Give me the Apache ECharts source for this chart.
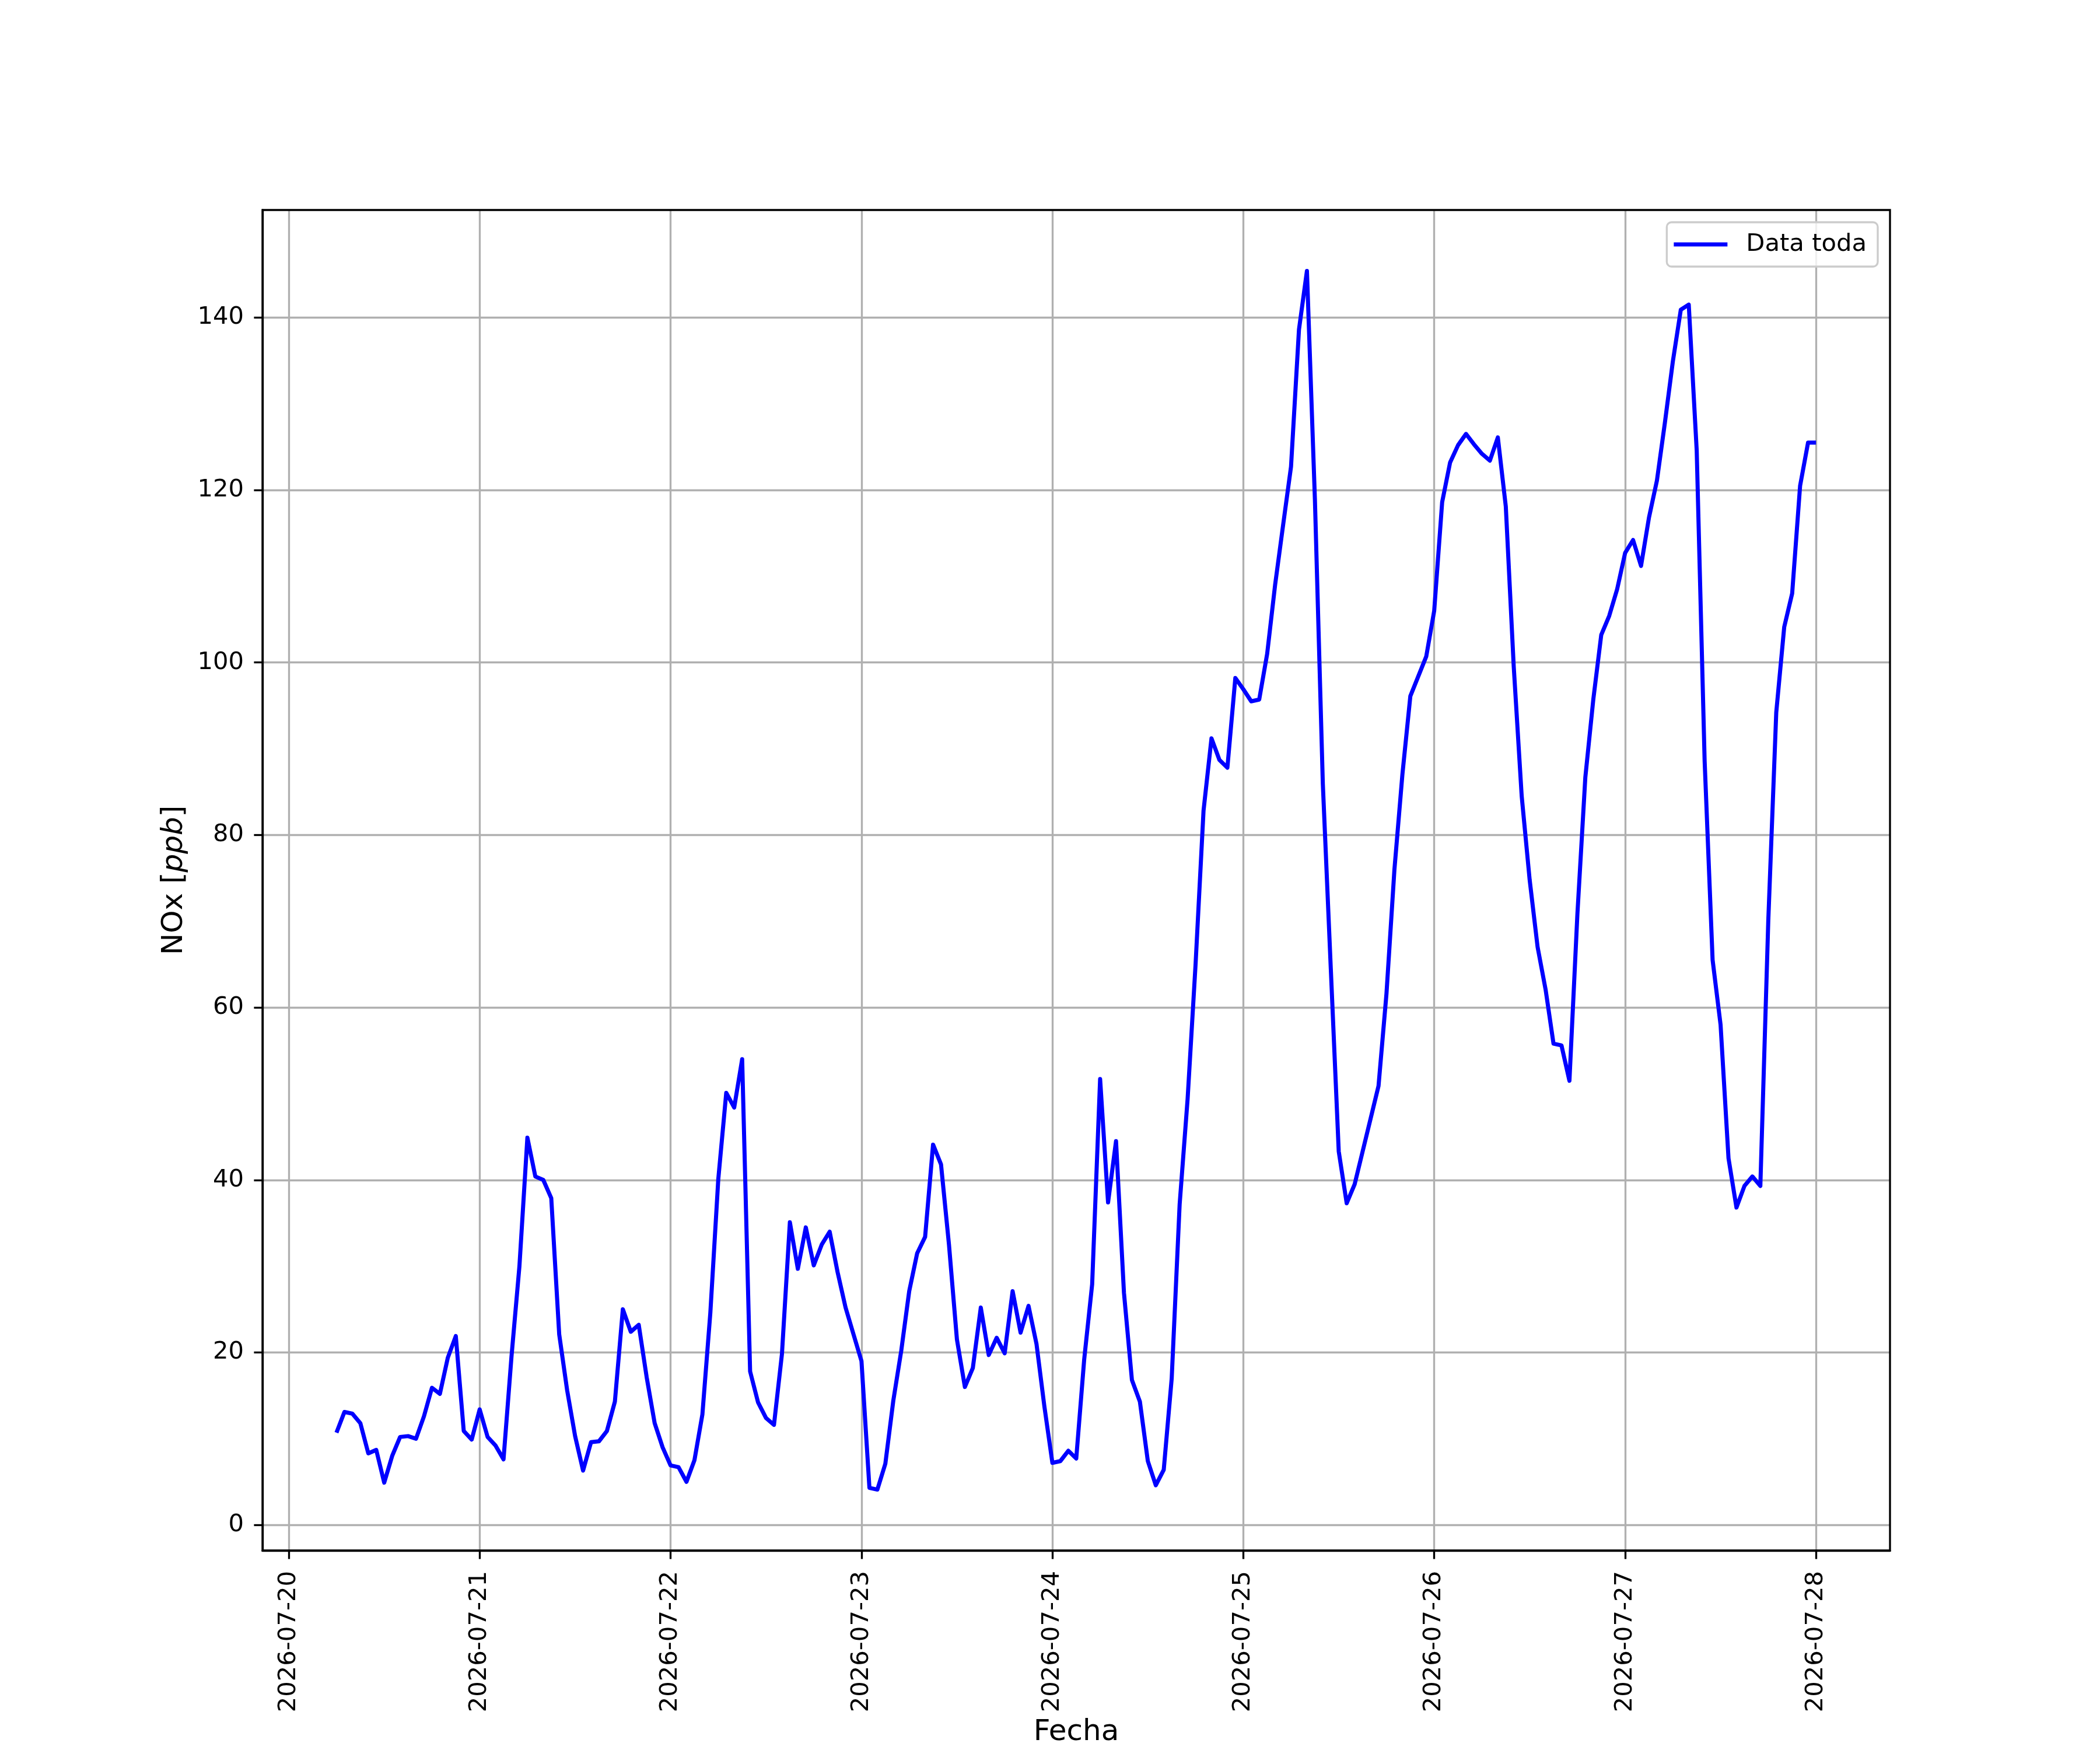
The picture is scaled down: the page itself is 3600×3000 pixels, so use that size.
<!DOCTYPE html>
<html>
<head>
<meta charset="utf-8">
<script src="https://cdn.jsdelivr.net/npm/echarts@6/dist/echarts.min.js"></script>
<style>
html,body{margin:0;padding:0;background:#ffffff;}
#c{width:3600px;height:3000px;}
</style>
</head>
<body>
<div id="c"></div>
<script>
// ---------- data ----------
const seriesName = 'Data toda';
const firstSample = [2026, 7, 20, 6]; // year, month, day, hour (UTC) of first hourly sample
// NOx [ppb], hourly, per day
const nox_0720 = [10.7, 13.1, 12.9, 11.8, 8.3, 8.7, 4.9, 8.0, 10.2, 10.3, 10.0, 12.6, 15.9, 15.2, 19.4, 21.9, 10.9, 9.9]; // 06..23
const nox_0721 = [13.4, 10.2, 9.2, 7.6, 19.5, 30.0, 44.9, 40.4, 40.0, 37.9, 22.1, 15.6, 10.3, 6.3, 9.6, 9.7, 10.9, 14.3, 25.0, 22.4, 23.2, 17.1, 11.8, 9.0];
const nox_0722 = [6.9, 6.7, 5.0, 7.5, 12.8, 24.6, 40.1, 50.1, 48.4, 54.0, 17.8, 14.2, 12.4, 11.6, 19.8, 35.1, 29.7, 34.5, 30.1, 32.5, 34.0, 29.3, 25.2, 22.1];
const nox_0723 = [19.0, 4.3, 4.1, 7.1, 14.4, 20.2, 27.1, 31.5, 33.4, 44.1, 41.8, 32.5, 21.5, 16.0, 18.2, 25.2, 19.7, 21.7, 19.9, 27.1, 22.3, 25.4, 21.0, 13.7];
const nox_0724 = [7.2, 7.4, 8.6, 7.7, 19.2, 27.9, 51.7, 37.4, 44.5, 26.9, 16.8, 14.3, 7.4, 4.6, 6.4, 17.0, 37.2, 49.4, 65.0, 82.8, 91.2, 88.7, 87.8, 98.2];
const nox_0725 = [96.9, 95.5, 95.7, 101.0, 109.0, 115.9, 122.7, 138.6, 145.4, 119.0, 85.9, 64.5, 43.3, 37.3, 39.5, 43.3, 47.1, 50.9, 61.6, 76.0, 87.0, 96.1, 98.4, 100.7];
const nox_0726 = [106.0, 118.6, 123.2, 125.2, 126.5, 125.3, 124.2, 123.4, 126.1, 118.1, 99.5, 84.5, 74.8, 67.0, 62.1, 55.8, 55.6, 51.5, 70.8, 86.7, 95.7, 103.2, 105.4, 108.5];
const nox_0727 = [112.7, 114.2, 111.2, 116.8, 121.1, 127.8, 134.9, 140.9, 141.5, 124.6, 88.5, 65.5, 58.0, 42.5, 36.8, 39.3, 40.4, 39.3, 70.1, 94.2, 104.1, 108.0, 120.5, 125.5];
const nox_0728 = [125.5]; // 00

const xTickLabels = ['2026-07-20','2026-07-21','2026-07-22','2026-07-23','2026-07-24','2026-07-25','2026-07-26','2026-07-27','2026-07-28'];
const yTickLabels = [0, 20, 40, 60, 80, 100, 120, 140];

// ---------- build ----------
const noxValues = [].concat(nox_0720, nox_0721, nox_0722, nox_0723, nox_0724, nox_0725, nox_0726, nox_0727, nox_0728);
const HOUR = 3600 * 1000;
const DAY = 24 * HOUR;
const t0 = Date.UTC(firstSample[0], firstSample[1] - 1, firstSample[2], firstSample[3]);
const seriesData = noxValues.map((v, i) => [t0 + i * HOUR, v]);

const tFirst = seriesData[0][0], tLast = seriesData[seriesData.length - 1][0];
const xPad = 0.05 * (tLast - tFirst);
const vMin = Math.min.apply(null, noxValues), vMax = Math.max.apply(null, noxValues);
const yPad = 0.05 * (vMax - vMin);

const xTickValues = xTickLabels.map(s => {
  const p = s.split('-').map(Number);
  return Date.UTC(p[0], p[1] - 1, p[2]);
});

const FONT = 'DejaVu Sans';
const TICK_FS = 41.7;
const LABEL_FS = 50;
const LW = 3.33;

function fmtDate(v) {
  const d = new Date(v);
  const p = n => (n < 10 ? '0' : '') + n;
  return d.getUTCFullYear() + '-' + p(d.getUTCMonth() + 1) + '-' + p(d.getUTCDate());
}

const chart = echarts.init(document.getElementById('c'), null, {renderer: 'canvas', width: 3600, height: 3000});
chart.setOption({
  animation: false,
  backgroundColor: '#ffffff',
  grid: {
    left: 450, right: 360, top: 360, bottom: 330,
    show: true, borderColor: '#000000', borderWidth: LW, backgroundColor: 'transparent', z: 4
  },
  legend: {
    show: true,
    data: [{name: seriesName, icon: 'rect'}],
    right: 381, top: 381,
    orient: 'vertical',
    itemWidth: 92, itemHeight: 7,
    padding: [17, 19, 17, 12],
    backgroundColor: 'rgba(255,255,255,0.8)',
    borderColor: '#cccccc', borderWidth: LW, borderRadius: 8,
    textStyle: {fontSize: TICK_FS, fontFamily: FONT, color: '#000000', padding: [0, 0, 0, 27]},
    selectedMode: false,
    z: 10
  },
  xAxis: {
    type: 'value',
    min: tFirst - xPad,
    max: tLast + xPad,
    minInterval: DAY, maxInterval: DAY,
    axisLine: {show: true, onZero: false, lineStyle: {color: '#000000', width: LW}},
    axisTick: {show: true, customValues: xTickValues, length: 14.6, inside: false, lineStyle: {color: '#000000', width: LW}},
    axisLabel: {
      show: true, customValues: xTickValues, rotate: 90, margin: 35,
      fontSize: TICK_FS, fontFamily: FONT, color: '#000000',
      formatter: v => fmtDate(v)
    },
    splitLine: {show: true, lineStyle: {color: '#b0b0b0', width: LW}},
    name: 'Fecha', nameLocation: 'middle', nameGap: 287,
    nameTextStyle: {fontSize: LABEL_FS, fontFamily: FONT, color: '#000000'}
  },
  yAxis: {
    type: 'value',
    min: vMin - yPad,
    max: vMax + yPad,
    minInterval: 20, maxInterval: 20,
    axisLine: {show: true, onZero: false, lineStyle: {color: '#000000', width: LW}},
    axisTick: {show: true, customValues: yTickLabels, length: 14.6, inside: false, lineStyle: {color: '#000000', width: LW}},
    axisLabel: {
      show: true, customValues: yTickLabels, margin: 32,
      fontSize: TICK_FS, fontFamily: FONT, color: '#000000'
    },
    splitLine: {show: true, lineStyle: {color: '#b0b0b0', width: LW}},
    name: 'NOx [{i|ppb}]', nameLocation: 'middle', nameGap: 126,
    nameTextStyle: {
      fontSize: LABEL_FS, fontFamily: FONT, color: '#000000',
      rich: {i: {fontSize: LABEL_FS, fontFamily: FONT, fontStyle: 'italic', color: '#000000'}}
    }
  },
  series: [{
    type: 'line',
    name: seriesName,
    data: seriesData,
    showSymbol: false,
    symbol: 'none',
    clip: true,
    lineStyle: {color: '#0000ff', width: 7, join: 'round', cap: 'butt'},
    itemStyle: {color: '#0000ff'},
    z: 3
  }]
});
</script>
</body>
</html>
